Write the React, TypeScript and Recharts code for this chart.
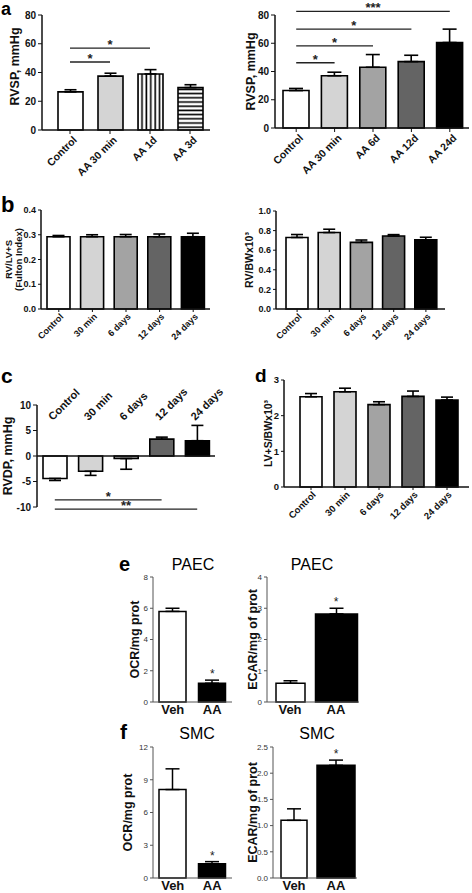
import React from "react";
import {
  BarChart,
  Bar,
  XAxis,
  YAxis,
  ErrorBar,
  Cell,
  Rectangle,
  ReferenceLine,
  ReferenceDot,
} from "recharts";

const FONT = '"Liberation Sans", Arial, Helvetica, sans-serif';

// panel a - RVSP
const aLeftCats = ["Control", "AA 30 min", "AA 1d", "AA 3d"];
const aLeftRvsp = [26.5, 37.5, 39, 29.5];
const aLeftErr = [1.5, 2, 3, 2];
const aLeftSigTo = ["AA 30 min", "AA 1d"];
const aLeftSigY = [47.3, 57];
const aLeftSigMark = ["*", "*"];

const aRightCats = ["Control", "AA 30 min", "AA 6d", "AA 12d", "AA 24d"];
const aRightRvsp = [26.5, 37, 43, 47, 60.5];
const aRightErr = [1.5, 2.5, 9, 4.5, 9.5];
const aRightSigTo = ["AA 30 min", "AA 6d", "AA 12d", "AA 24d"];
const aRightSigY = [46.2, 58.2, 70, 82.6];
const aRightSigMark = ["*", "*", "*", "***"];

// panels b, c, d
const timeCats = ["Control", "30 min", "6 days", "12 days", "24 days"];
const fulton = [0.292, 0.292, 0.292, 0.292, 0.292];
const fultonErr = [0.005, 0.008, 0.009, 0.011, 0.014];
const rvBw = [0.73, 0.78, 0.68, 0.745, 0.705];
const rvBwErr = [0.03, 0.034, 0.024, 0.014, 0.027];
const rvdp = [-4.4, -3.0, -0.5, 3.3, 3.0];
const rvdpErr = [0.4, 0.8, 2.1, 0.4, 3.0];
const cSigTo = ["12 days", "24 days"];
const cSigY = [-8.6, -10.4];
const cSigMark = ["*", "**"];
const lvsBw = [2.53, 2.67, 2.31, 2.54, 2.44];
const lvsBwErr = [0.09, 0.1, 0.08, 0.15, 0.08];

// panels e, f
const cellCats = ["Veh", "AA"];
const paecOcr = [5.8, 1.2];
const paecOcrErr = [0.2, 0.2];
const paecEcar = [0.6, 2.82];
const paecEcarErr = [0.08, 0.18];
const smcOcr = [8.1, 1.3];
const smcOcrErr = [1.9, 0.2];
const smcEcar = [1.1, 2.15];
const smcEcarErr = [0.22, 0.1];

const grays = ["#ffffff", "#d4d4d4", "#a3a3a3", "#646464", "#000000"];
const aLeftFills = ["#ffffff", "#d4d4d4", "url(#vstripe)", "url(#hstripe)"];
const vehAa = ["#ffffff", "#000000"];

const rows = (cats: string[], vals: number[], errs: number[]) =>
  cats.map((name, i) => ({
    name,
    value: vals[i],
    err: vals[i] < 0 ? [errs[i], 0] : [0, errs[i]],
  }));

const tickBold = { fontSize: 10, fontWeight: 700, fill: "#111", fontFamily: FONT };
const tickThin = { fontSize: 8, fill: "#333", fontFamily: FONT };
const axisBold = { stroke: "#111", strokeWidth: 1.5 };
const axisThin = { stroke: "#555", strokeWidth: 1 };
const one = (v: number) => v.toFixed(1);

function yTitle(lines: string[], x: number, size: number, weight = 700, shift = 0) {
  return (props: any) => {
    const vb = props.viewBox || {};
    const cy = (vb.y ?? 0) + (vb.height ?? 0) / 2 + shift;
    return (
      <text
        x={x}
        y={cy}
        transform={`rotate(-90 ${x} ${cy})`}
        textAnchor="middle"
        fontSize={size}
        fontWeight={weight}
        fontFamily={FONT}
        fill="#111"
      >
        {lines.map((l, i) => (
          <tspan key={i} x={x} dy={i === 0 ? size * 0.35 : size * 1.05}>
            {l}
          </tspan>
        ))}
      </text>
    );
  };
}

// asterisk over a segment or a point
function mark(value: string, size: number, weight: number, lift: number) {
  return (props: any) => {
    const vb = props.viewBox || {};
    const cx = (vb.x ?? 0) + (vb.width ?? 0) / 2;
    return (
      <text x={cx} y={(vb.y ?? 0) - lift} textAnchor="middle" fontSize={size} fontWeight={weight} fontFamily={FONT} fill="#222">
        {value}
      </text>
    );
  };
}

function RotTick(props: any) {
  const { x, y, payload, fs = 10, ox = 4, oy = 2 } = props;
  return (
    <g transform={`translate(${x + ox},${y + oy})`}>
      <text
        textAnchor="end"
        transform="rotate(-45)"
        dy="0.35em"
        fontSize={fs}
        fontWeight={700}
        fontFamily={FONT}
        fill="#111"
      >
        {payload.value}
      </text>
    </g>
  );
}

function TopTick(props: any) {
  const { x, y, payload } = props;
  return (
    <g transform={`translate(${x - 2},${y + 16})`}>
      <text
        textAnchor="start"
        transform="rotate(-45)"
        fontSize={11}
        fontWeight={700}
        fontFamily={FONT}
        fill="#111"
      >
        {payload.value}
      </text>
    </g>
  );
}

function bars(fills: string[], size: number, cap: number, sw = 1.6, wideAA = 0) {
  // the AA bar in the ECAR plots is drawn wider than the Veh bar
  const shape = wideAA
    ? (p: any) => (
        <Rectangle {...p} x={p.index === 1 ? p.x - wideAA / 2 : p.x} width={p.index === 1 ? p.width + wideAA : p.width} />
      )
    : undefined;
  return (
    <Bar dataKey="value" barSize={size} stroke="#000" strokeWidth={sw} isAnimationActive={false} shape={shape}>
      {fills.map((f, i) => (
        <Cell key={i} fill={f} />
      ))}
      <ErrorBar dataKey="err" width={cap} stroke="#000" strokeWidth={sw} direction="y" />
    </Bar>
  );
}

function sigLines(to: string[], ys: number[], marks: string[]) {
  return to.map((t, i) => (
    <ReferenceLine
      key={i}
      segment={[
        { x: "Control", y: ys[i] },
        { x: t, y: ys[i] },
      ]}
      stroke="#222"
      strokeWidth={1.3}
      ifOverflow="visible"
      label={mark(marks[i], 13, 700, -1)}
    />
  ));
}

function star(vals: number[], errs: number[]) {
  return (
    <ReferenceDot
      x="AA"
      y={vals[1] + errs[1]}
      r={0}
      fill="none"
      stroke="none"
      ifOverflow="visible"
      label={mark("*", 12, 400, 2)}
    />
  );
}

function Tag({ x, y, size, weight = 700, w, children }: any) {
  return (
    <div
      style={{
        position: "absolute",
        left: x,
        top: y,
        width: w,
        textAlign: w ? "center" : "left",
        fontSize: size,
        fontWeight: weight,
        fontFamily: FONT,
        lineHeight: 1,
        color: "#000",
      }}
    >
      {children}
    </div>
  );
}

const box = (left: number, top: number): React.CSSProperties => ({ position: "absolute", left, top });

function CellChart({ left, top, width, height, yw, vals, errs, max, ticks, fmt, label, labelX, barW, wide = 0 }: any) {
  return (
    <div style={box(left, top)}>
      <BarChart width={width} height={height} data={rows(cellCats, vals, errs)} margin={{ top: 17, right: 3, left: 0, bottom: 0 }}>
        <XAxis dataKey="name" axisLine={axisThin} tickLine={false} tickSize={0} tickMargin={3} height={22}
          tick={{ fontSize: 13, fontWeight: 700, fill: "#111", fontFamily: FONT }} />
        <YAxis width={yw} domain={[0, max]} ticks={ticks} tickFormatter={fmt} axisLine={axisThin}
          tickLine={{ stroke: "#555" }} tickSize={3} tick={tickThin} label={yTitle([label], labelX, 12.5)} />
        {bars(vehAa, barW, 7, 1.5, wide)}
        {star(vals, errs)}
      </BarChart>
    </div>
  );
}

export default function App() {
  return (
    <div style={{ position: "absolute", left: 0, top: 0, width: 472, height: 893, background: "#fff", overflow: "hidden" }}>
      {/* a left */}
      <div style={box(0, 0)}>
        <BarChart width={215} height={185} data={rows(aLeftCats, aLeftRvsp, aLeftErr)} margin={{ top: 15, right: 5, left: 0, bottom: 0 }}>
          <defs>
            <pattern id="vstripe" width="4.4" height="4" patternUnits="userSpaceOnUse">
              <rect width="4.4" height="4" fill="#fff" />
              <line x1="1.2" y1="0" x2="1.2" y2="4" stroke="#000" strokeWidth="1.6" />
            </pattern>
            <pattern id="hstripe" width="4" height="4.2" patternUnits="userSpaceOnUse">
              <rect width="4" height="4.2" fill="#fff" />
              <line x1="0" y1="1.2" x2="4" y2="1.2" stroke="#000" strokeWidth="1.6" />
            </pattern>
          </defs>
          <XAxis dataKey="name" interval={0} height={55} padding={{ left: 8, right: 0 }} axisLine={axisBold}
            tickLine={{ stroke: "#111" }} tickSize={4} tick={<RotTick fs={10.5} ox={5} oy={2} />} />
          <YAxis width={42} domain={[0, 80]} ticks={[0, 20, 40, 60, 80]} axisLine={axisBold} tickLine={{ stroke: "#111" }}
            tickSize={4} tick={tickBold} label={yTitle(["RVSP, mmHg"], 15, 12.5, 700, -6)} />
          {bars(aLeftFills, 25, 6)}
          {sigLines(aLeftSigTo, aLeftSigY, aLeftSigMark)}
        </BarChart>
      </div>

      {/* a right */}
      <div style={box(236, 0)}>
        <BarChart width={236} height={190} data={rows(aRightCats, aRightRvsp, aRightErr)} margin={{ top: 15, right: 3, left: 0, bottom: 0 }}>
          <XAxis dataKey="name" interval={0} height={62} padding={{ left: 2, right: 0 }} axisLine={axisBold}
            tickLine={{ stroke: "#111" }} tickSize={4} tick={<RotTick fs={10.5} ox={5} oy={2} />} />
          <YAxis width={39} domain={[0, 80]} ticks={[0, 20, 40, 60, 80]} axisLine={axisBold} tickLine={{ stroke: "#111" }}
            tickSize={4} tick={tickBold} label={yTitle(["RVSP, mmHg"], 15, 12.5)} />
          {bars(grays, 26, 7)}
          {sigLines(aRightSigTo, aRightSigY, aRightSigMark)}
        </BarChart>
      </div>

      {/* b left */}
      <div style={box(0, 185)}>
        <BarChart width={215} height={160} data={rows(timeCats, fulton, fultonErr)} margin={{ top: 25, right: 5, left: 0, bottom: 0 }}>
          <XAxis dataKey="name" interval={0} height={36} padding={{ left: 1, right: 0 }} axisLine={axisBold}
            tickLine={{ stroke: "#111" }} tickSize={3} tick={<RotTick fs={9} ox={3} oy={1} />} />
          <YAxis width={41} domain={[0, 0.4]} ticks={[0, 0.1, 0.2, 0.3, 0.4]} tickFormatter={one} axisLine={axisBold}
            tickLine={{ stroke: "#111" }} tickSize={3} tick={{ ...tickBold, fontSize: 9 }}
            label={yTitle(["RV/LV+S", "(Fulton Index)"], 9, 9.5)} />
          {bars(grays, 23, 6)}
        </BarChart>
      </div>

      {/* b right */}
      <div style={box(236, 185)}>
        <BarChart width={212} height={160} data={rows(timeCats, rvBw, rvBwErr)} margin={{ top: 26, right: 3, left: 0, bottom: 0 }}>
          <XAxis dataKey="name" interval={0} height={36} padding={{ left: 5, right: 3 }} axisLine={axisBold}
            tickLine={{ stroke: "#111" }} tickSize={3} tick={<RotTick fs={9} ox={3} oy={1} />} />
          <YAxis width={40} domain={[0, 1]} ticks={[0, 0.2, 0.4, 0.6, 0.8, 1]} tickFormatter={one} axisLine={axisBold}
            tickLine={{ stroke: "#111" }} tickSize={3} tick={{ ...tickBold, fontSize: 9 }}
            label={yTitle(["RV/BWx10³"], 13, 10.5)} />
          {bars(grays, 22, 6)}
        </BarChart>
      </div>

      {/* c */}
      <div style={box(0, 340)}>
        <BarChart width={240} height={180} data={rows(timeCats, rvdp, rvdpErr)} margin={{ top: 0, right: 25, left: 0, bottom: 13 }}>
          <XAxis dataKey="name" orientation="top" interval={0} height={65} axisLine={false} tickLine={false}
            tickSize={0} tickMargin={0} tick={<TopTick />} />
          <YAxis width={37} domain={[-10, 10]} ticks={[-10, -5, 0, 5, 10]} axisLine={axisBold} tickLine={{ stroke: "#111" }}
            tickSize={4} tick={tickBold} label={yTitle(["RVDP, mmHg"], 8, 12.5)} />
          <ReferenceLine y={0} stroke="#111" strokeWidth={1.5} />
          {bars(grays, 24, 6)}
          {sigLines(cSigTo, cSigY, cSigMark)}
        </BarChart>
      </div>

      {/* d */}
      <div style={box(236, 340)}>
        <BarChart width={236} height={200} data={rows(timeCats, lvsBw, lvsBwErr)} margin={{ top: 40, right: 3, left: 0, bottom: 0 }}>
          <XAxis dataKey="name" interval={0} height={53} padding={{ left: 10, right: 5 }} axisLine={axisBold}
            tickLine={{ stroke: "#111" }} tickSize={3} tick={<RotTick fs={9.5} ox={3} oy={1} />} />
          <YAxis width={48} domain={[0, 3]} ticks={[0, 1, 2, 3]} axisLine={axisBold} tickLine={{ stroke: "#111" }}
            tickSize={3} tick={{ ...tickBold, fontSize: 9.5 }} label={yTitle(["LV+S/BWx10³"], 32, 10.5)} />
          {bars(grays, 22, 6)}
        </BarChart>
      </div>

      {/* e, f */}
      <CellChart left={120} top={560} width={115} height={164} yw={33} vals={paecOcr} errs={paecOcrErr}
        max={8} ticks={[0, 2, 4, 6, 8]} label="OCR/mg prot" labelX={15} barW={27} />
      <CellChart left={236} top={560} width={126} height={164} yw={31} vals={paecEcar} errs={paecEcarErr}
        max={4} ticks={[0, 1, 2, 3, 4]} label="ECAR/mg of prot" labelX={17} barW={29} wide={13} />
      <CellChart left={120} top={730} width={115} height={170} yw={33} vals={smcOcr} errs={smcOcrErr}
        max={12} ticks={[0, 3, 6, 9, 12]} label="OCR/mg prot" labelX={8} barW={27} />
      <CellChart left={236} top={730} width={124} height={170} yw={37} vals={smcEcar} errs={smcEcarErr}
        max={2.5} ticks={[0, 0.5, 1, 1.5, 2, 2.5]} fmt={one} label="ECAR/mg of prot" labelX={17} barW={26} wide={12} />

      <Tag x={1} y={0} size={18}>a</Tag>
      <Tag x={1} y={194} size={22}>b</Tag>
      <Tag x={1} y={365} size={21}>c</Tag>
      <Tag x={255} y={366} size={19}>d</Tag>
      <Tag x={119} y={554} size={20}>e</Tag>
      <Tag x={120} y={721} size={21}>f</Tag>
      <Tag x={153} y={557} size={16} weight={400} w={80}>PAEC</Tag>
      <Tag x={272} y={557} size={16} weight={400} w={80}>PAEC</Tag>
      <Tag x={157} y={726} size={16} weight={400} w={80}>SMC</Tag>
      <Tag x={277} y={726} size={16} weight={400} w={80}>SMC</Tag>
    </div>
  );
}
